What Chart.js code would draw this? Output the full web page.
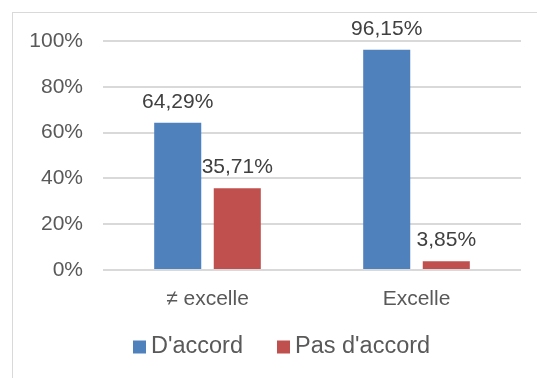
<!DOCTYPE html>
<html lang="fr">
<head>
<meta charset="utf-8">
<title>D'accord / Pas d'accord</title>
<script src="https://cdn.jsdelivr.net/npm/chart.js@4/dist/chart.umd.min.js"></script>
<style>
  html, body { margin: 0; padding: 0; background: #fff; overflow: hidden; }
  #wrap { position: relative; width: 537px; height: 378px; }
  #frame { position: absolute; left: 12px; top: 12px; width: 600px; height: 500px; border: 1px solid #d9d9d9; box-sizing: border-box; }
  #chart { position: absolute; left: 0; top: 0; }
</style>
</head>
<body>
<div id="wrap">
  <div id="frame"></div>
  <canvas id="chart" width="537" height="378"></canvas>
</div>
<script>
const categories = ["≠ excelle", "Excelle"];
const seriesNames = ["D'accord", "Pas d'accord"];
const accordValues = [64.29, 96.15];
const pasAccordValues = [35.71, 3.85];
const yTicks = [0, 20, 40, 60, 80, 100];

const FONT = "'Liberation Sans', Arial, sans-serif";
const TEXT = "#595959";

function formatPct(v) {
  return v.toFixed(2).replace(".", ",") + "%";
}

// value labels above each bar
const valueLabels = {
  id: "valueLabels",
  afterDatasetsDraw(chart) {
    const ctx = chart.ctx;
    ctx.save();
    ctx.font = `21px ${FONT}`;
    ctx.fillStyle = "#404040";
    ctx.textAlign = "center";
    ctx.textBaseline = "middle";
    chart.data.datasets.forEach((ds, i) => {
      chart.getDatasetMeta(i).data.forEach((bar, j) => {
        ctx.fillText(formatPct(ds.data[j]), bar.x, bar.y - 21);
      });
    });
    ctx.restore();
  },
};

// legend row under the axis
const bottomLegend = {
  id: "bottomLegend",
  afterDraw(chart) {
    const ctx = chart.ctx;
    ctx.save();
    ctx.font = `23.5px ${FONT}`;
    ctx.textBaseline = "middle";
    let x = 133;
    const y = 347;
    chart.data.datasets.forEach((ds) => {
      ctx.fillStyle = ds.backgroundColor;
      ctx.fillRect(x, y - 6.5, 13, 13);
      ctx.fillStyle = TEXT;
      ctx.textAlign = "left";
      ctx.fillText(ds.label, x + 18, y);
      x += 18 + ctx.measureText(ds.label).width + 34;
    });
    ctx.restore();
  },
};

new Chart(document.getElementById("chart"), {
  type: "bar",
  data: {
    labels: categories,
    datasets: [
      { label: seriesNames[0], data: accordValues, backgroundColor: "#4f81bd" },
      { label: seriesNames[1], data: pasAccordValues, backgroundColor: "#c0504d" },
    ],
  },
  options: {
    responsive: false,
    animation: false,
    events: [],
    datasets: { bar: { categoryPercentage: 0.57, barPercentage: 0.79 } },
    layout: { padding: { left: 12, right: 16, top: 41, bottom: 58 } },
    plugins: { legend: { display: false }, tooltip: { enabled: false } },
    scales: {
      x: {
        grid: { display: false },
        border: { display: false },
        ticks: { color: TEXT, font: { family: FONT, size: 21 }, padding: 9 },
        afterFit(scale) { scale.height = 50; },
      },
      y: {
        min: 0,
        max: 100,
        afterBuildTicks(scale) { scale.ticks = yTicks.map((v) => ({ value: v })); },
        grid: { color: "#d9d9d9", lineWidth: 2, drawTicks: false },
        border: { display: false },
        ticks: {
          color: TEXT,
          font: { family: FONT, size: 21 },
          padding: 20,
          callback: (v) => v + "%",
        },
        afterFit(scale) { scale.width = 91; },
      },
    },
  },
  plugins: [valueLabels, bottomLegend],
});
</script>
</body>
</html>
